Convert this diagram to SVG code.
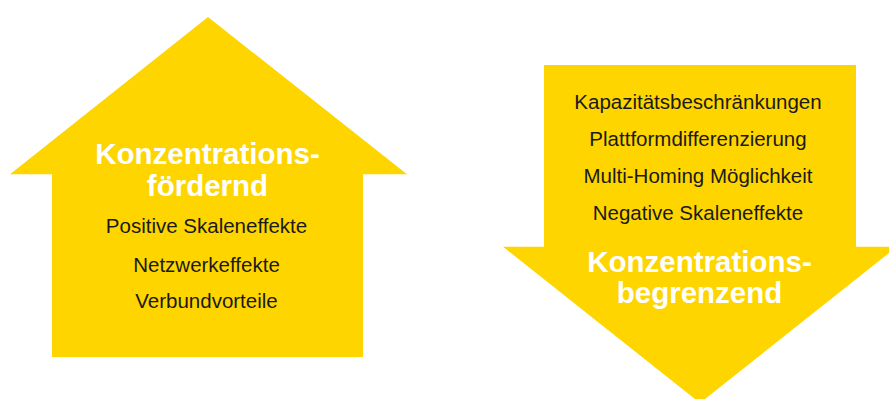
<svg xmlns="http://www.w3.org/2000/svg" width="889" height="399" viewBox="0 0 889 399">
<style>
.arrow{fill:#FFD500;stroke:none}
.head{font-family:"Liberation Sans",Arial,sans-serif;font-weight:bold;font-size:29.5px;fill:#ffffff;text-anchor:middle}
.item{font-family:"Liberation Sans",Arial,sans-serif;font-size:20.5px;fill:#1a1a1a;text-anchor:middle}
</style>
<rect width="889" height="399" fill="#ffffff"/>
<g id="up-arrow">
<polygon class="arrow" points="208,17 407,174.3 363,174.3 363,357 52,357 52,174.3 10,174.3"/>
<text class="head" x="207.5" y="164.3">Konzentrations-</text>
<text class="head" x="207.5" y="196">fördernd</text>
<text class="item" x="206.5" y="233.3">Positive Skaleneffekte</text>
<text class="item" x="206.5" y="271.7">Netzwerkeffekte</text>
<text class="item" x="206.5" y="307.7">Verbundvorteile</text>
</g>
<g id="down-arrow">
<polygon class="arrow" points="544,65 856,65 856,246.7 897,246.7 700,403 503,246.7 544,246.7"/>
<text class="item" x="698" y="109">Kapazitätsbeschränkungen</text>
<text class="item" x="698" y="146">Plattformdifferenzierung</text>
<text class="item" x="698" y="183.3">Multi-Homing Möglichkeit</text>
<text class="item" x="698" y="220">Negative Skaleneffekte</text>
<text class="head" x="699.5" y="272.3">Konzentrations-</text>
<text class="head" x="699.5" y="303.3">begrenzend</text>
</g>
<g id="connectors"/>
</svg>
